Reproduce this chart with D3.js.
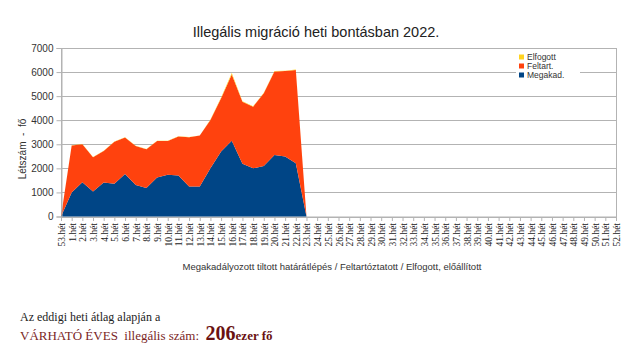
<!DOCTYPE html>
<html><head><meta charset="utf-8">
<script src="https://cdn.jsdelivr.net/npm/d3@7"></script>
<style>
body{margin:0;background:#fff;}
svg{display:block;}
</style></head>
<body>
<svg id="chart" width="640" height="352"></svg>
<script>
const weeks = ["53.hét"].concat(d3.range(1,53).map(i => i + ".hét"));
// values for weeks 53, 1..23 (later weeks: no data yet)
const megakad  = [0,1000,1420,1040,1410,1360,1770,1310,1180,1620,1730,1700,1250,1250,2000,2700,3150,2190,2000,2100,2560,2490,2210,0];
const feltart  = [0,1950,1580,1420,1310,1750,1510,1620,1610,1520,1410,1620,2040,2110,2010,2210,2750,2580,2560,3020,3460,3550,3880,0];
const elfogott = [0,10,10,10,10,10,15,10,10,10,10,10,10,10,20,30,60,20,20,20,20,20,20,0];
const yTicks = [0,1000,2000,3000,4000,5000,6000,7000];
const seriesKeys = ["Megakad.","Feltart.","Elfogott"];
const colors = {"Megakad.":"#004586","Feltart.":"#ff420e","Elfogott":"#ffd320"};

const svg = d3.select("#chart");
const X0=61, X1=616, Y0=216.5, Y1=48;
const x = d3.scalePoint().domain(weeks).range([X0,X1]);
const y = d3.scaleLinear().domain([0,7000]).range([Y0,Y1]);

const rows = megakad.map((v,i)=>({week:weeks[i],"Megakad.":v,"Feltart.":feltart[i],"Elfogott":elfogott[i]}));
const stacked = d3.stack().keys(seriesKeys)(rows);

// title
svg.append("text").attr("x",316).attr("y",37).attr("text-anchor","middle")
  .attr("font-family","Liberation Sans, Arial, sans-serif").attr("font-size",14.5).attr("fill","#222")
  .text("Illegális migráció heti bontásban 2022.");

// grid
svg.append("g").selectAll("line").data(yTicks.filter(t=>t>0&&t<7000)).join("line")
  .attr("x1",X0).attr("x2",X1).attr("y1",d=>Math.round(y(d))+0.5).attr("y2",d=>Math.round(y(d))+0.5)
  .attr("stroke","#b3b3b3").attr("stroke-width",1);
svg.append("rect").attr("x",X0+0.5).attr("y",Y1+0.5).attr("width",X1-X0).attr("height",Y0-Y1)
  .attr("fill","none").attr("stroke","#b3b3b3");

// areas
const area = d3.area().x(d=>x(d.data.week)).y0(d=>y(d[0])).y1(d=>y(d[1]));
svg.append("g").selectAll("path").data(stacked).join("path")
  .attr("d",area).attr("fill",d=>colors[d.key]);

// y axis
const ya = svg.append("g").attr("transform",`translate(${X0+0.5},0)`)
  .call(d3.axisLeft(y).tickValues(yTicks).tickSize(5).tickPadding(3).tickFormat(d3.format("d")));
ya.select(".domain").attr("stroke","#b3b3b3");
ya.selectAll(".tick line").attr("stroke","#b3b3b3");
ya.selectAll("text").attr("font-family","Liberation Sans, Arial, sans-serif").attr("font-size",10).attr("fill","#333");

// x axis
const xa = svg.append("g").attr("transform",`translate(0,${Y0+0.5})`)
  .call(d3.axisBottom(x).tickSize(4).tickPadding(2));
xa.select(".domain").attr("stroke","#b3b3b3");
xa.selectAll(".tick line").attr("stroke","#b3b3b3");
xa.selectAll("text").attr("font-family","Liberation Serif, Times New Roman, serif").attr("font-size",9.5).attr("fill","#222")
  .attr("text-anchor","end").attr("dy",null).attr("transform","translate(3.5,6) rotate(-90)").attr("y",0).attr("x",0);

// axis titles
svg.append("text").attr("transform","translate(26,149) rotate(-90)").attr("text-anchor","middle")
  .attr("font-family","Liberation Sans, Arial, sans-serif").attr("font-size",10).attr("fill","#333")
  .attr("xml:space","preserve").text("Létszám  -  fő");
svg.append("text").attr("x",332).attr("y",270).attr("text-anchor","middle")
  .attr("font-family","Liberation Sans, Arial, sans-serif").attr("font-size",9.5).attr("fill","#333")
  .text("Megakadályozott tiltott határátlépés / Feltartóztatott / Elfogott, előállított");

// legend
const lg = svg.append("g");
lg.append("rect").attr("x",516).attr("y",50).attr("width",64).attr("height",30).attr("fill","#fff");
const legendOrder = ["Elfogott","Feltart.","Megakad."];
legendOrder.forEach((k,i)=>{
  const cy = 57 + i*9;
  lg.append("rect").attr("x",519).attr("y",cy-2.5).attr("width",5).attr("height",5).attr("fill",colors[k]);
  lg.append("text").attr("x",527).attr("y",cy+3).attr("font-family","Liberation Sans, Arial, sans-serif")
    .attr("font-size",8.5).attr("fill","#333").text(k);
});

// note
svg.append("text").attr("x",20).attr("y",321).attr("font-family","Liberation Serif, Times New Roman, serif")
  .attr("font-size",12).attr("fill","#222").text("Az eddigi heti átlag alapján a");
const t2 = svg.append("text").attr("x",20).attr("y",340).attr("font-family","Liberation Serif, Times New Roman, serif")
  .attr("xml:space","preserve");
t2.append("tspan").attr("font-size",13).attr("fill","#7b1f1f").text("VÁRHATÓ ÉVES  illegális szám:  ");
t2.append("tspan").attr("font-size",20).attr("font-weight","bold").attr("fill","#6a1212").text("206");
t2.append("tspan").attr("font-size",13).attr("font-weight","bold").attr("fill","#6a1212").text("ezer fő");
</script>
</body></html>
